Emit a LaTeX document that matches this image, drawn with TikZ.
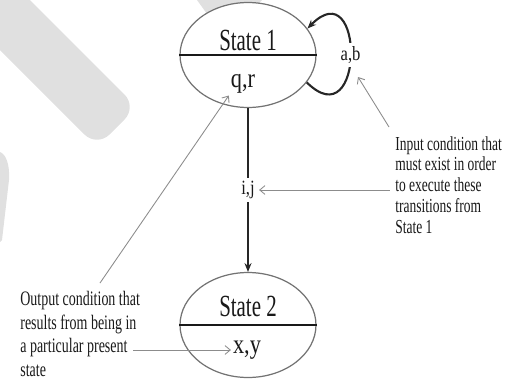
\documentclass[tikz,border=0pt]{standalone}
\usepackage{fontspec}
\setmainfont{Liberation Serif}
\newfontfamily\narrowserif[FakeStretch=0.68]{Liberation Serif}
\newfontfamily\labelserif[FakeStretch=0.82]{Liberation Serif}
\usepackage{tikz}
\usetikzlibrary{arrows.meta,shapes.geometric}
\usepackage{xcolor}
\definecolor{wmgray}{gray}{0.88}
\definecolor{rimgray}{gray}{0.45}
\definecolor{notegray}{gray}{0.55}
\definecolor{inkgray}{gray}{0.1}

\begin{document}
\begin{tikzpicture}[x=0.02cm,y=-0.02cm,
	state/.style={ellipse,draw=rimgray,line width=0.7pt,fill=white,minimum width=2.72cm,minimum height=2.1cm,inner sep=0pt},
	statename/.style={font={\narrowserif\fontsize{17.5}{20}\selectfont},text=inkgray,inner sep=1pt},
	outvar/.style={font={\labelserif\fontsize{15.5}{17}\selectfont},text=inkgray,inner sep=1pt},
	invar/.style={font={\labelserif\fontsize{11.5}{13}\selectfont},text=inkgray,fill=white,inner sep=2pt},
	note/.style={font={\narrowserif\fontsize{11.3}{11.8}\selectfont},text=inkgray,align=left,inner sep=0pt},
	widenote/.style={note,font={\narrowserif\fontsize{11.7}{13.4}\selectfont}},
	divider/.style={draw=inkgray,line width=1.2pt},
	trans/.style={draw=black!85,line width=1pt,-{Stealth[length=5pt,width=4pt]}},
	pointer/.style={draw=notegray,line width=0.5pt,-{Straight Barb[length=3pt,width=5pt]}}]
				\useasboundingbox (0,0) rectangle (510,389);
				\clip (0,0) rectangle (510,389);
				
				\fill[wmgray,rounded corners=10] (-58,-8) -- (-18,-48) -- (137,107) -- (97,147) -- cycle;
				\fill[wmgray] (197,0) -- (262,0) -- (240,25) -- (215,25) -- cycle;
				\fill[wmgray] (0,152) .. controls (6,154) and (10,165) .. (9,180) -- (2,240) -- (0,242) -- cycle;
				
				\node(s1) at (248,55)[state]{};
				\node(s2) at (248,325)[state]{};
				\draw[divider] (s1.west) -- (s1.east);
				\draw[divider] (s2.west) -- (s2.east);
				\node(s1name) at (248,40)[statename]{State 1};
				\node(s1out) at (243,84)[outvar]{q,r};
				\node(s2name) at (248,306)[statename]{State 2};
				\node(s2out) at (247,350)[outvar]{x,y};
				
				\node(inputnote) at (395,136)[note,anchor=north west]{Input condition that\\must exist in order\\to execute these\\transitions from\\State 1};
				\node(outputnote) at (20,291)[widenote,anchor=north west]{Output condition that\\results from being in\\a particular present\\state};
				\coordinate(abtip) at (358,77);
				
				\draw[trans] (s1) to node[invar] (ij) {i,j} (s2);
				\draw[trans,line width=1.2pt] (s1.-25) .. controls (365,140) and (365,-30) .. node[invar] (ab) {a,b} (s1.24);
				
				\draw[pointer] ([shift={(-6,-9)}]inputnote.north west) -- (abtip);
				\draw[pointer] ([xshift=-3pt]inputnote.west |- ij.east) -- (ij.east);
				\draw[pointer] ([shift={(80,-8)}]outputnote.north west) -- (s1out.south west);
				\draw[pointer] ([xshift=-4pt]outputnote.east |- s2out.west) -- (s2out.west);
				
			\end{tikzpicture}
\end{document}
